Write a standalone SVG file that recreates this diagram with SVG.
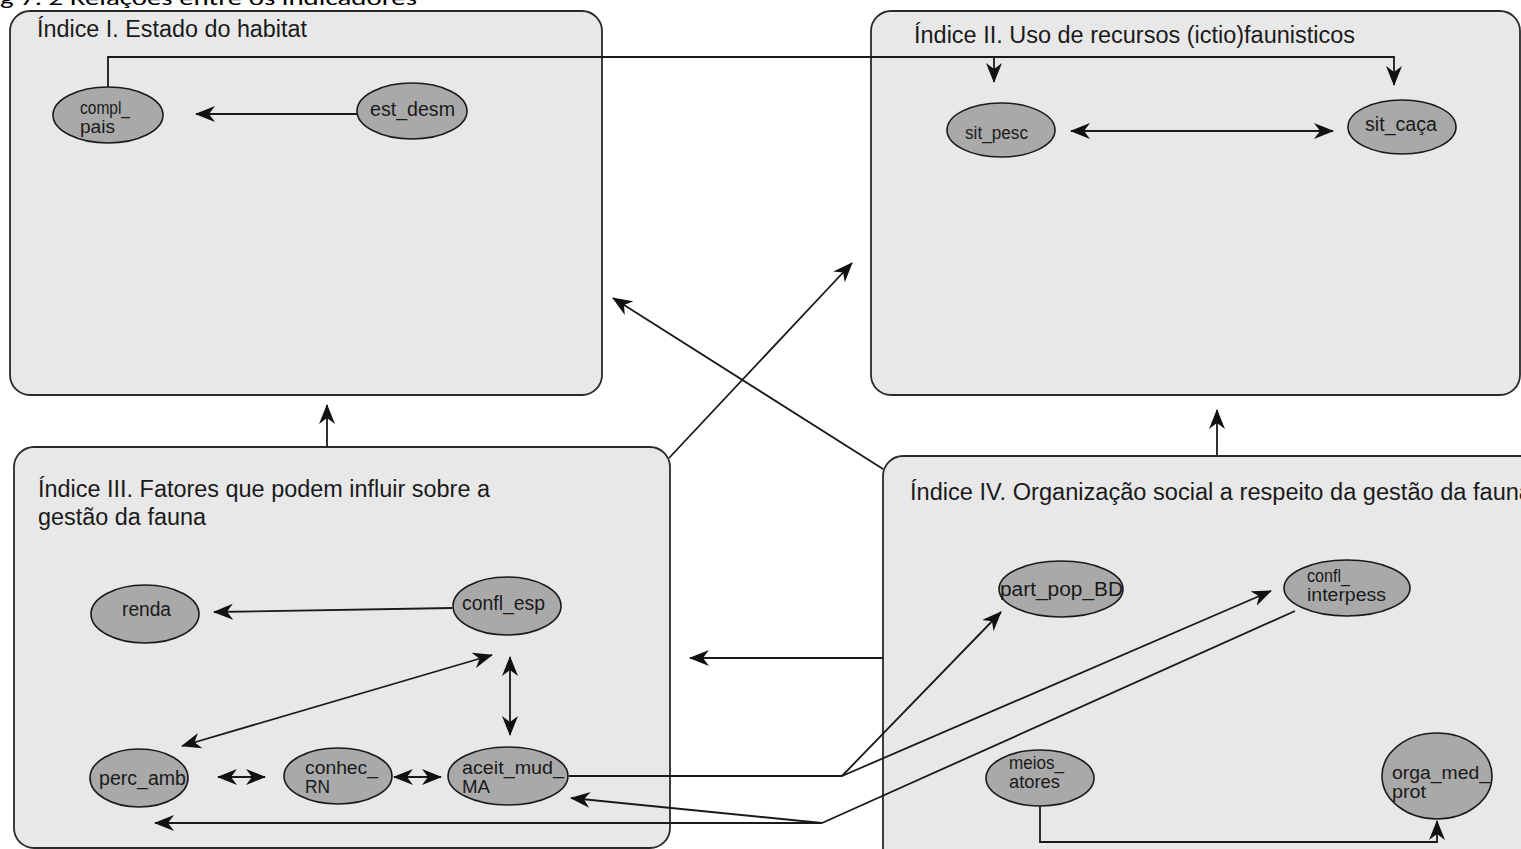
<svg xmlns="http://www.w3.org/2000/svg" width="1521" height="849" viewBox="0 0 1521 849">
<style>
.box{fill:#e8e8e8;stroke:#2a2a2a;stroke-width:1.8}
.node{fill:#a9a9a9;stroke:#1a1a1a;stroke-width:1.6}
.title{font-family:"Liberation Sans Narrow","Liberation Sans",Arial,sans-serif;font-size:23px;fill:#1a1a1a}
.lbl{font-family:"Liberation Sans Narrow","Liberation Sans",Arial,sans-serif;font-size:20px;fill:#1a1a1a}
.l2{font-family:"Liberation Sans Narrow","Liberation Sans",Arial,sans-serif;font-size:18px;fill:#1a1a1a}
.cap{font-family:"Carlito","Liberation Sans",Arial,sans-serif;font-size:21px;fill:#000}
.c{fill:none;stroke:#1a1a1a;stroke-width:1.8}
.e{marker-end:url(#ah)}
.b{marker-start:url(#ah);marker-end:url(#ah)}
</style>
<defs>
<marker id="ah" viewBox="0 0 20 16" refX="19" refY="8" markerWidth="20" markerHeight="16" markerUnits="userSpaceOnUse" orient="auto-start-reverse">
<path d="M0,0 L20,8 L0,16 L6,8 Z" fill="#111"/>
</marker>
</defs>
<rect width="1521" height="849" fill="#ffffff"/>
<text class="cap" x="0" y="5" textLength="417" lengthAdjust="spacingAndGlyphs">g 7. 2 Relações entre os indicadores</text>

<g id="box-I">
<rect class="box" x="10" y="11" width="592" height="384" rx="20"/>
<text class="title" x="37" y="37" textLength="270" lengthAdjust="spacingAndGlyphs">Índice I. Estado do habitat</text>
</g>
<g id="box-II">
<rect class="box" x="871" y="11" width="649" height="384" rx="20"/>
<text class="title" x="914" y="43" textLength="441" lengthAdjust="spacingAndGlyphs">Índice II. Uso de recursos (ictio)faunisticos</text>
</g>
<g id="box-III">
<rect class="box" x="14" y="447" width="656" height="401" rx="20"/>
<text class="title" x="38" y="497" textLength="452" lengthAdjust="spacingAndGlyphs">Índice III. Fatores que podem influir sobre a</text>
<text class="title" x="38" y="525" textLength="168" lengthAdjust="spacingAndGlyphs">gestão da fauna</text>
</g>
<g id="box-IV">
<rect class="box" x="883" y="456" width="720" height="440" rx="20"/>
<text class="title" x="910" y="500" textLength="622" lengthAdjust="spacingAndGlyphs">Índice IV. Organização social a respeito da gestão da fauna</text>
</g>

<g id="connectors">
<path class="c e" d="M108,87 V57 H1394 V85"/>
<path class="c e" d="M994,57 V82"/>
<path class="c e" d="M358,114 H196"/>
<path class="c b" d="M1071,131 H1333"/>
<path class="c e" d="M327,447 V405"/>
<path class="c e" d="M1217,455 V410"/>
<path class="c e" d="M669,458 L852,263"/>
<path class="c e" d="M883,469 L613,298"/>
<path class="c e" d="M883,658 H690"/>
<path class="c e" d="M452,608 L214,612"/>
<path class="c b" d="M182,746 L492,655"/>
<path class="c b" d="M510,657 V735"/>
<path class="c b" d="M218,777 H265"/>
<path class="c b" d="M394,777 H441"/>
<path class="c" d="M569,776 H842"/>
<path class="c e" d="M842,776 L1001,612"/>
<path class="c e" d="M842,776 L1271,591"/>
<path class="c" d="M1295,611 L822,823"/>
<path class="c e" d="M822,823 L571,798"/>
<path class="c e" d="M822,823 H155"/>
<path class="c e" d="M1040,806 V842 H1437 V821"/>
</g>

<g id="compl_pais">
<ellipse class="node" cx="108" cy="115" rx="55" ry="28"/>
<text class="l2" x="80" y="114" textLength="50" lengthAdjust="spacingAndGlyphs">compl_</text>
<text class="l2" x="80" y="133" textLength="35" lengthAdjust="spacingAndGlyphs">pais</text>
</g>
<g id="est_desm">
<ellipse class="node" cx="412" cy="111" rx="55" ry="28"/>
<text class="lbl" x="370" y="116" textLength="85" lengthAdjust="spacingAndGlyphs">est_desm</text>
</g>
<g id="sit_pesc">
<ellipse class="node" cx="1001" cy="130" rx="54" ry="27"/>
<text class="lbl" x="965" y="139" textLength="63" lengthAdjust="spacingAndGlyphs" style="font-size:18px">sit_pesc</text>
</g>
<g id="sit_caca">
<ellipse class="node" cx="1402" cy="127" rx="54" ry="27"/>
<text class="lbl" x="1365" y="131" textLength="72" lengthAdjust="spacingAndGlyphs">sit_caça</text>
</g>
<g id="renda">
<ellipse class="node" cx="145" cy="614" rx="54" ry="29"/>
<text class="lbl" x="122" y="616" textLength="49" lengthAdjust="spacingAndGlyphs">renda</text>
</g>
<g id="confl_esp">
<ellipse class="node" cx="507" cy="606" rx="54" ry="29"/>
<text class="lbl" x="462" y="610" textLength="83" lengthAdjust="spacingAndGlyphs">confl_esp</text>
</g>
<g id="perc_amb">
<ellipse class="node" cx="139" cy="778" rx="49" ry="29"/>
<text class="lbl" x="99" y="785" textLength="87" lengthAdjust="spacingAndGlyphs">perc_amb</text>
</g>
<g id="conhec_RN">
<ellipse class="node" cx="338" cy="776" rx="54" ry="28"/>
<text class="l2" x="305" y="774" textLength="73" lengthAdjust="spacingAndGlyphs">conhec_</text>
<text class="l2" x="305" y="793" textLength="25" lengthAdjust="spacingAndGlyphs">RN</text>
</g>
<g id="aceit_mud_MA">
<ellipse class="node" cx="508" cy="776" rx="60" ry="29"/>
<text class="l2" x="462" y="774" textLength="102" lengthAdjust="spacingAndGlyphs">aceit_mud_</text>
<text class="l2" x="462" y="793" textLength="28" lengthAdjust="spacingAndGlyphs">MA</text>
</g>
<g id="part_pop_BD">
<ellipse class="node" cx="1061" cy="589" rx="62" ry="28"/>
<text class="lbl" x="1000" y="596" textLength="123" lengthAdjust="spacingAndGlyphs">part_pop_BD</text>
</g>
<g id="confl_interpess">
<ellipse class="node" cx="1347" cy="588" rx="63" ry="28"/>
<text class="l2" x="1307" y="582" textLength="43" lengthAdjust="spacingAndGlyphs">confl_</text>
<text class="l2" x="1307" y="601" textLength="79" lengthAdjust="spacingAndGlyphs">interpess</text>
</g>
<g id="meios_atores">
<ellipse class="node" cx="1040" cy="778" rx="54" ry="28"/>
<text class="l2" x="1009" y="769" textLength="55" lengthAdjust="spacingAndGlyphs">meios_</text>
<text class="l2" x="1009" y="788" textLength="51" lengthAdjust="spacingAndGlyphs">atores</text>
</g>
<g id="orga_med_prot">
<ellipse class="node" cx="1437" cy="776" rx="55" ry="43"/>
<text class="l2" x="1392" y="779" textLength="98" lengthAdjust="spacingAndGlyphs">orga_med_</text>
<text class="l2" x="1392" y="798" textLength="34" lengthAdjust="spacingAndGlyphs">prot</text>
</g>
</svg>
